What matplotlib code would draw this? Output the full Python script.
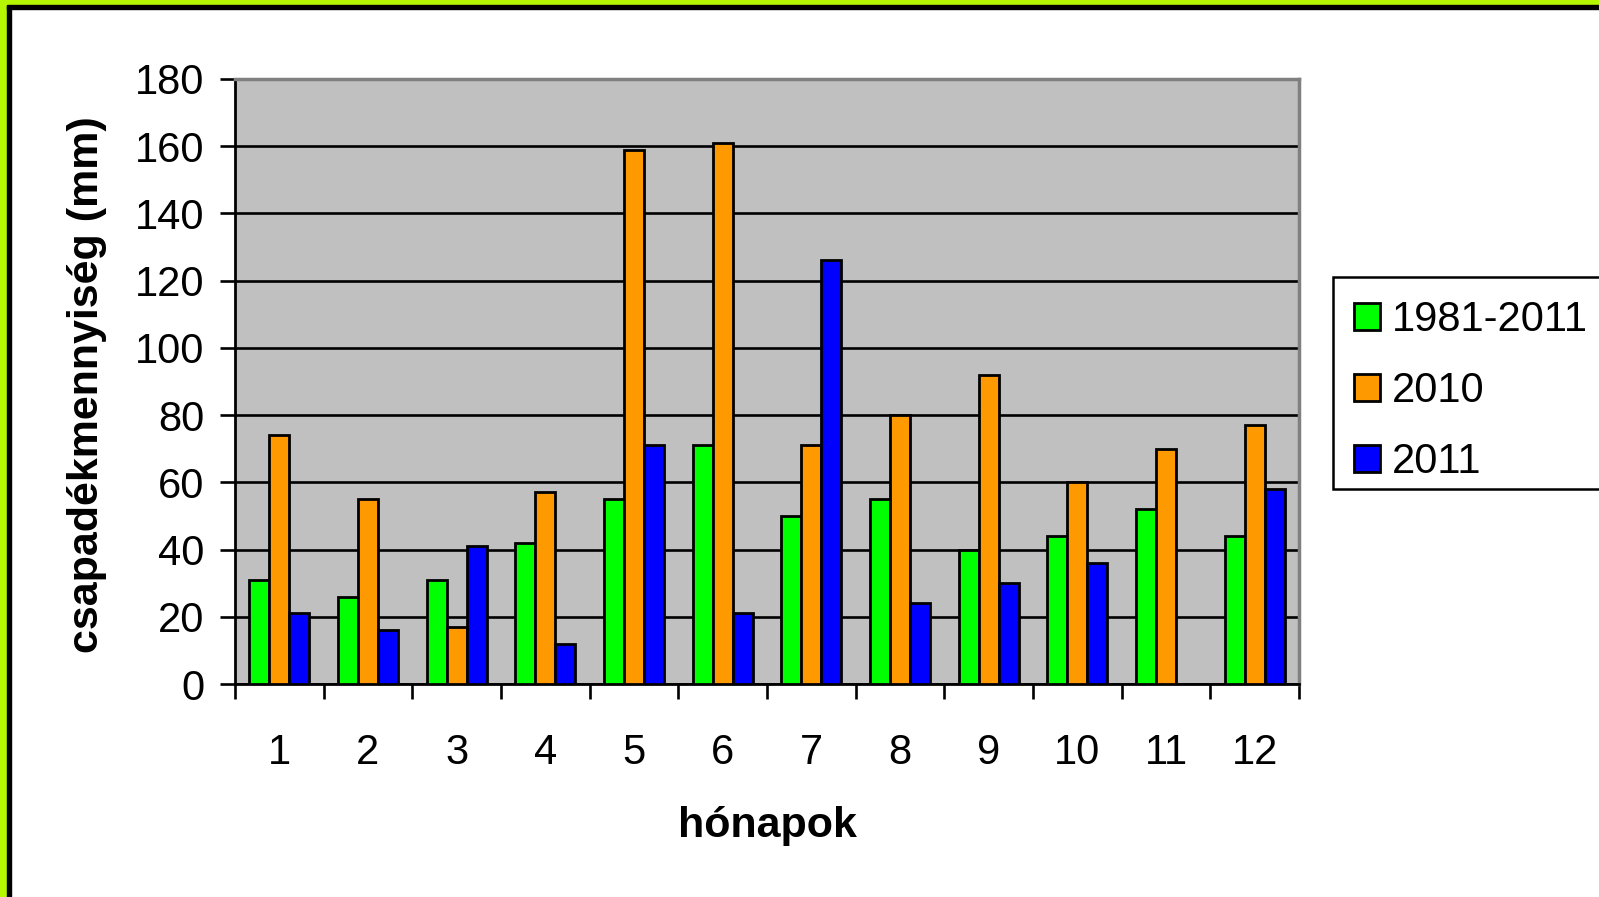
import matplotlib.pyplot as plt
import matplotlib.patches as mpatches
import numpy as np

plt.rcParams['font.family'] = ['Liberation Sans', 'DejaVu Sans']

# Havi csapadék adatok (mm)
months = ['1', '2', '3', '4', '5', '6', '7', '8', '9', '10', '11', '12']
avg_1981_2011 = [31, 26, 31, 42, 55, 71, 50, 55, 40, 44, 52, 44]
year_2010 = [74, 55, 17, 57, 159, 161, 71, 80, 92, 60, 70, 77]
year_2011 = [21, 16, 41, 12, 71, 21, 126, 24, 30, 36, 0, 58]
series_names = ['1981-2011', '2010', '2011']
yticks = [0, 20, 40, 60, 80, 100, 120, 140, 160, 180]

colors = ['#00ff00', '#ff9900', '#0000ff']

W, H = 1599, 897
fig = plt.figure(figsize=(W / 100, H / 100), dpi=100)
fig.patch.set_facecolor('white')

# keret: lime + fekete vonal (bal és felső oldal)
fig.patches.append(mpatches.Rectangle((0, 0), 7 / W, 1, transform=fig.transFigure,
                                      color='#b5f700', zorder=0))
fig.patches.append(mpatches.Rectangle((7 / W, 0), 3.5 / W, 1 - 5 / H, transform=fig.transFigure,
                                      color='black', zorder=0))
fig.patches.append(mpatches.Rectangle((0, 1 - 5 / H), 1, 5 / H, transform=fig.transFigure,
                                      color='#b5f700', zorder=0))
fig.patches.append(mpatches.Rectangle((7 / W, 1 - 9 / H), 1, 4 / H, transform=fig.transFigure,
                                      color='black', zorder=0))

ax = fig.add_axes([235 / W, 1 - 684 / H, (1299 - 235) / W, (684 - 79) / H])
ax.set_facecolor('#c0c0c0')

x = np.arange(len(months))
bw = 0.225
data = [avg_1981_2011, year_2010, year_2011]
handles = []
for i in range(3):
    vals = np.array(data[i], dtype=float)
    ax.bar(x + (i - 1) * bw, np.where(vals > 0, vals, np.nan), width=bw, color=colors[i],
           edgecolor='black', linewidth=2.0, zorder=3)
    handles.append(mpatches.Patch(facecolor=colors[i], edgecolor='black',
                                  linewidth=2.0, label=series_names[i]))

ax.set_xlim(-0.5, len(months) - 0.5)
ax.set_ylim(0, 180)
ax.set_yticks(yticks)
ax.set_yticklabels([str(v) for v in yticks], fontsize=30)
ax.yaxis.grid(True, color='black', linewidth=1.9)
ax.set_axisbelow(True)

# tick-ek a kategóriák határán, feliratok középen
ax.set_xticks(np.arange(len(months) + 1) - 0.5)
ax.set_xticklabels([])
ax.set_xticks(x, minor=True)
ax.set_xticklabels(months, minor=True, fontsize=30)
ax.tick_params(axis='x', which='major', direction='out', length=11, width=1.9)
ax.tick_params(axis='x', which='minor', length=0, pad=35)
ax.tick_params(axis='y', direction='out', length=11, width=1.9, pad=11)

ax.spines['left'].set_linewidth(2.0)
ax.spines['bottom'].set_linewidth(2.0)
ax.spines['top'].set_color('#808080')
ax.spines['right'].set_color('#808080')
ax.spines['top'].set_linewidth(2.5)
ax.spines['right'].set_linewidth(2.5)

fig.text(87 / W, 1 - 385 / H, 'csapadékmennyiség (mm)', rotation=90,
         fontsize=31, fontweight='bold', ha='center', va='center')
fig.text(767 / W, 1 - 826 / H, 'hónapok', fontsize=31, fontweight='bold',
         ha='center', va='center')

# jelmagyarázat kerete külön
fig.patches.append(mpatches.Rectangle((1333 / W, 1 - 489 / H), 300 / W, 212 / H,
                                      transform=fig.transFigure, facecolor='white',
                                      edgecolor='black', linewidth=1.8, zorder=1))
leg = fig.legend(handles=handles, loc='upper left',
                 bbox_to_anchor=(1333 / W, 1 - 279 / H), borderaxespad=0,
                 fontsize=30, handlelength=0.62, handleheight=0.62,
                 handletextpad=0.3, borderpad=0.5, labelspacing=0.75,
                 frameon=False)

fig.savefig('out.png', dpi=100)
